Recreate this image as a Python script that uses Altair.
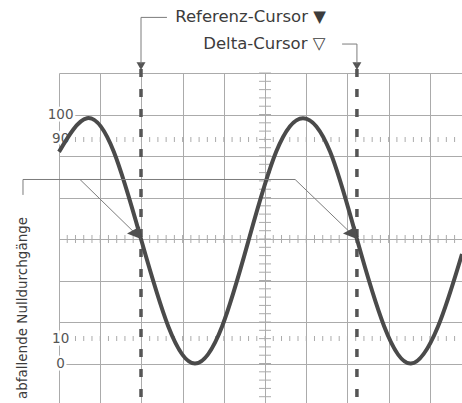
import altair as alt
import pandas as pd

# ---- screen geometry: horizontal divisions, vertical axis in percent ----
X_MAX = 9.78                 # visible part of the 10-division screen
Y_MIN, Y_MAX = -15.86, 116.67
DIV_Y = 100 / 6              # one vertical division in percent

# ---- traced waveform (x in divisions, y in percent) ----
wave_x = [0.0, 0.68, 1.33, 1.99, 2.65, 3.30, 3.96, 4.61, 5.27, 5.92, 6.58, 7.23, 7.89, 8.54, 9.20, 9.78]
wave_y = [85, 98.5, 85, 50, 15, 0, 15, 50, 85, 98.5, 85, 50, 15, 0, 15, 44]

# ---- cursors on the falling zero crossings ----
cursor_names = ["Referenz-Cursor", "Delta-Cursor"]
cursor_x = [1.99, 7.23]
cursor_level = 50

# ---- level labels on the left edge ----
level_values = [100, 90, 10, 0]
level_labels = ["100", "90", "10", "0"]

GRID = "#ababab"
INK = "#4a4a4a"
TEXT = "#3c3c3c"
THIN = "#7c7c7c"
FONT = "DejaVu Sans"

xs = alt.Scale(domain=[0, X_MAX], nice=False, zero=False)
ys = alt.Scale(domain=[Y_MIN, Y_MAX], nice=False, zero=False)
x_axis = alt.Axis(values=list(range(0, 10)), grid=True, gridColor=GRID, gridWidth=1,
                  labels=False, ticks=False, domain=False, title="")
y_axis = alt.Axis(values=[k * DIV_Y for k in range(0, 8)], grid=True, gridColor=GRID, gridWidth=1,
                  labels=False, ticks=False, domain=False, title="")


def X(field="x"):
    return alt.X(f"{field}:Q", scale=xs, axis=x_axis)


def Y(field="y"):
    return alt.Y(f"{field}:Q", scale=ys, axis=y_axis)


# graticule: major grid via axes, minor ticks on the centre lines and on the 10 % / 90 % lines
minor_x = [k / 5 for k in range(1, 49)]
minor_y = [k * DIV_Y / 5 for k in range(-4, 36)]

grid_base = alt.Chart(pd.DataFrame({"x": [0.0], "y": [0.0]})).mark_point(opacity=0).encode(x=X(), y=Y())

center_h = alt.Chart(pd.DataFrame({"x": minor_x})).mark_tick(
    orient="vertical", size=8, thickness=1, color=GRID, opacity=1
).encode(x=X(), y=alt.datum(50, scale=ys))

center_v = alt.Chart(pd.DataFrame({"y": minor_y})).mark_tick(
    orient="horizontal", size=12, thickness=1, color=GRID, opacity=1
).encode(y=Y(), x=alt.datum(5, scale=xs))

level_ticks = alt.Chart(
    pd.DataFrame({"x": minor_x * 2, "y": [90] * len(minor_x) + [10] * len(minor_x)})
).mark_tick(orient="vertical", size=5, thickness=1, color=GRID, opacity=1).encode(x=X(), y=Y())

# level labels sitting on the left border with a white backing
levels = pd.DataFrame({"y": level_values, "label": level_labels})
label_halo = alt.Chart(levels).mark_text(
    font=FONT, fontSize=13.5, align="center", baseline="middle",
    color="white", stroke="white", strokeWidth=5
).encode(x=alt.datum(0.04, scale=xs), y=Y(), text="label:N")
label_text = alt.Chart(levels).mark_text(
    font=FONT, fontSize=13.5, align="center", baseline="middle", color="#555555"
).encode(x=alt.datum(0.04, scale=xs), y=Y(), text="label:N")

# dashed cursors with their markers
cursors = pd.DataFrame({"x": cursor_x, "name": cursor_names})
cursor_rules = alt.Chart(cursors).mark_rule(
    color="#555555", strokeWidth=3.5, strokeDash=[8, 12]
).encode(x=X(), y=alt.datum(118.3, scale=ys), y2=alt.datum(Y_MIN))
cursor_marks = alt.Chart(cursors).mark_point(
    shape="triangle-down", filled=True, size=80, color="#555555", opacity=1
).encode(x=X(), y=alt.datum(119.4, scale=ys))

# waveform
wave = alt.Chart(pd.DataFrame({"x": wave_x, "y": wave_y})).mark_line(
    interpolate="natural", color=INK, strokeWidth=4
).encode(x=X(), y=Y())

# callout leaders
leaders = pd.DataFrame({
    "g": ["ref"] * 3 + ["delta"] * 3 + ["stub"] * 2 + ["bar"] * 2 + ["d1"] * 2 + ["d2"] * 2,
    "o": [0, 1, 2, 0, 1, 2, 0, 1, 0, 1, 0, 1, 0, 1],
    "x": [2.62, cursor_x[0], cursor_x[0], 6.87, cursor_x[1], cursor_x[1],
          -0.874, -0.874, -0.874, 5.73, 0.51, cursor_x[0], 5.73, cursor_x[1]],
    "y": [139.0, 139.0, 120.4, 128.3, 128.3, 120.4,
          67.7, 73.9, 73.9, 73.9, 73.9, cursor_level, 73.9, cursor_level],
})
leader_lines = alt.Chart(leaders).mark_line(color=THIN, strokeWidth=1).encode(
    x=X(), y=Y(), detail="g:N", order="o:Q"
)

arrow_heads = alt.Chart(cursors).mark_point(
    shape="M0,0L-14,-5.5L-1,-12.5Z", size=4, filled=True, color="#505050", opacity=1
).encode(x=X(), y=alt.datum(cursor_level, scale=ys))

cursor_labels = alt.Chart(pd.DataFrame({
    "x": [2.82, 3.50], "y": [139.0, 128.5],
    "t": [cursor_names[0] + " \u25BC", cursor_names[1] + " \u25BD"],
})).mark_text(font=FONT, fontSize=16.5, align="left", baseline="middle", color=TEXT).encode(
    x=X(), y=Y(), text="t:N"
)

side_label = alt.Chart(pd.DataFrame({"x": [-0.874], "y": [22.3], "t": ["abfallende Nulldurchgänge"]})).mark_text(
    font=FONT, fontSize=13.5, angle=270, align="center", baseline="middle", color=TEXT
).encode(x=X(), y=Y(), text="t:N")

chart = alt.layer(
    grid_base, center_h, center_v, level_ticks, label_halo, label_text,
    cursor_rules, cursor_marks, wave, leader_lines, arrow_heads, cursor_labels, side_label
).properties(
    width=403, height=330,
    padding={"left": 59, "top": 73, "right": 0, "bottom": 0},
    autosize=alt.AutoSizeParams(type="none"),
    background="white",
).configure_view(stroke=None)

chart.save("out.html", embed_options={"renderer": "svg", "actions": False})
